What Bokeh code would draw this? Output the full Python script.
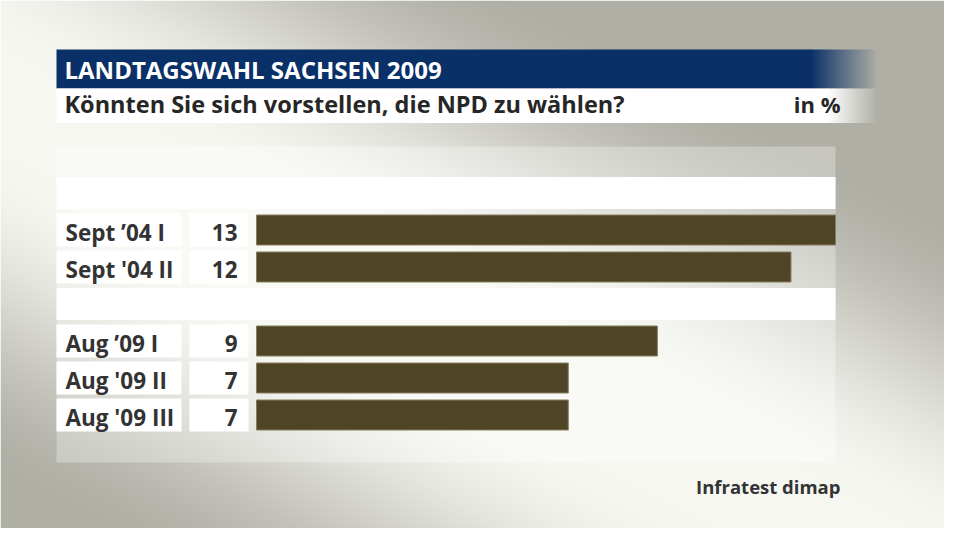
import numpy as np
from bokeh.plotting import figure
from bokeh.models import Range1d
from bokeh.embed import file_html
from bokeh.resources import INLINE
from bokeh.core.properties import value

# ---------------- data ----------------
title = "LANDTAGSWAHL SACHSEN 2009"
subtitle = "Könnten Sie sich vorstellen, die NPD zu wählen?"
unit = "in %"
source = "Infratest dimap"
categories = ["Sept ’04 I", "Sept '04 II", "Aug ’09 I", "Aug '09 II", "Aug '09 III"]
values = [13, 12, 9, 7, 7]
slots = [1, 2, 4, 5, 6]      # row positions (0 and 3 are blank separator rows)
blank_slots = [0, 3]

# ---------------- layout ----------------
PAGE_H = 544
W, H = 944, 528
FONT = value("Open Sans")


def sy(y):
    """screen y (px from top) -> data y"""
    return PAGE_H - y


def rgba_image(rgb, alpha):
    """rgb: (h, w, 3) float array, alpha: (h, w) float 0..1 -> packed uint32 image"""
    h, w = alpha.shape
    img = np.empty((h, w), dtype=np.uint32)
    v = img.view(dtype=np.uint8).reshape((h, w, 4))
    v[..., 0] = np.clip(rgb[..., 0], 0, 255).astype(np.uint8)
    v[..., 1] = np.clip(rgb[..., 1], 0, 255).astype(np.uint8)
    v[..., 2] = np.clip(rgb[..., 2], 0, 255).astype(np.uint8)
    v[..., 3] = np.clip(alpha * 255, 0, 255).astype(np.uint8)
    return img


p = figure(width=W, height=H, output_backend="svg", toolbar_location=None,
           x_range=Range1d(0, W), y_range=Range1d(sy(H), sy(0)),
           x_axis_type=None, y_axis_type=None, min_border=0)
p.grid.visible = False
p.outline_line_color = None
p.background_fill_color = None
p.border_fill_color = None

# bar value scale: 0 -> px 256, max -> px 835
BAR_L, BAR_R = 256, 835
ppu = (BAR_R - BAR_L) / max(values)
p.extra_x_ranges = {"val": Range1d(start=(0 - BAR_L) / ppu, end=(W - BAR_L) / ppu)}
# row slot scale: slot s centred at screen y = 192.5 + 37*s
ROW0, PITCH = 192.5, 37.0
p.extra_y_ranges = {"slot": Range1d(start=(H - ROW0) / PITCH, end=(0 - ROW0) / PITCH)}

# ---------------- background gradient (with lighter panel behind the rows) ----------------
xs = np.arange(W) + 0.5
ys = H - (np.arange(H) + 0.5)          # screen y for each image row (row 0 = bottom)
X, Y = np.meshgrid(xs, ys)
ux, uy = 800.0, 420.0
n = np.hypot(ux, uy)
ux, uy = ux / n, uy / n
d = np.abs(X * uy - (Y - 100) * ux)
t = np.clip((d - 50) / 290.0, 0, 1)
t = t * t * (3 - 2 * t)
light = np.array([247, 247, 242])
dark = np.array([175, 175, 166])
rgb = light[None, None, :] * (1 - t[..., None]) + dark[None, None, :] * t[..., None]
panel = (X >= 56) & (X <= BAR_R) & (Y >= 146) & (Y <= 462)
rgb[panel] = rgb[panel] * 0.7 + 255 * 0.3
p.image_rgba(image=[rgba_image(rgb, np.ones((H, W)))], x=0, y=sy(H), dw=W, dh=H)

# ---------------- header ----------------
BLUE = "#0a3068"
BLUE_RGB = np.array([10, 48, 104])
p.quad(left=[56], right=[811], top=[sy(49)], bottom=[sy(88)], fill_color=BLUE, line_color=None)
fw = 67
a = 1 - (np.arange(fw) + 0.5) / fw
blue_fade = rgba_image(np.broadcast_to(BLUE_RGB, (1, fw, 3)).astype(float), a[None, :])
p.image_rgba(image=[blue_fade], x=810, y=sy(88), dw=fw, dh=39)

p.quad(left=[56], right=[828], top=[sy(88)], bottom=[sy(122.5)], fill_color="white", line_color=None)
fw2 = 50
a2 = 1 - (np.arange(fw2) + 0.5) / fw2
white_fade = rgba_image(np.full((1, fw2, 3), 255.0), a2[None, :])
p.image_rgba(image=[white_fade], x=827, y=sy(122.5), dw=fw2, dh=34.5)

p.text(x=[64], y=[sy(68.5)], text=[title], text_font=FONT, text_font_style="bold",
       text_font_size="24px", text_color="white", text_baseline="middle")
p.text(x=[64], y=[sy(103)], text=[subtitle], text_font=FONT, text_font_style="bold",
       text_font_size="23.5px", text_color="#262626", text_baseline="middle")
p.text(x=[840], y=[sy(103)], text=[unit], text_font=FONT, text_font_style="bold",
       text_font_size="22px", text_color="#262626", text_baseline="middle", text_align="right")

# blank separator rows
p.hbar(y=blank_slots, left=56, right=BAR_R, height=32 / PITCH, y_range_name="slot",
       fill_color="white", line_color=None)
# label and value boxes
p.hbar(y=slots, left=56, right=181, height=33 / PITCH, y_range_name="slot",
       fill_color="white", line_color=None)
p.hbar(y=slots, left=189, right=248, height=33 / PITCH, y_range_name="slot",
       fill_color="white", line_color=None)
# bars
p.hbar(y=slots, left=0, right=values, height=30 / PITCH, x_range_name="val", y_range_name="slot",
       fill_color="#4e4526", line_color="#857c5e", line_width=1)

label_y = [s + 2.0 / PITCH for s in slots]
p.text(x=65, y=label_y, y_range_name="slot", text=categories, text_font=FONT,
       text_font_style="bold", text_font_size="22.5px", text_color="#333333",
       text_baseline="middle")
p.text(x=237, y=label_y, y_range_name="slot", text=[str(v) for v in values], text_font=FONT,
       text_font_style="bold", text_font_size="22.5px", text_color="#333333",
       text_baseline="middle", text_align="right")

p.text(x=[840], y=[sy(486)], text=[source], text_font=FONT, text_font_style="bold",
       text_font_size="18.5px", text_color="#333333", text_baseline="middle", text_align="right")

open("out.html", "w").write(file_html(p, INLINE))
